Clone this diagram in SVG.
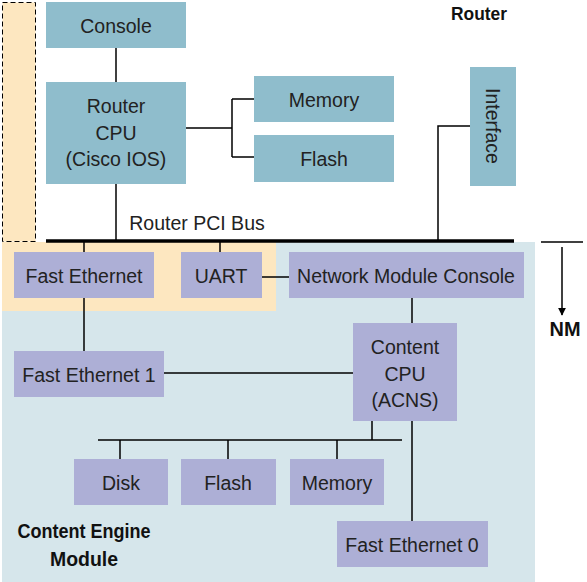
<svg xmlns="http://www.w3.org/2000/svg" width="587" height="582" viewBox="0 0 587 582">
<defs>
<style>
.rt{fill:#8fbdcc}
.cm{fill:#adafd6}
.t{font-family:"Liberation Sans",Arial,sans-serif;font-size:19.5px;fill:#222;text-anchor:middle}
.b{font-family:"Liberation Sans",Arial,sans-serif;font-weight:bold;fill:#111;text-anchor:middle}
.c{stroke:#000;stroke-width:1.5;fill:none}
</style>
<marker id="ah" viewBox="0 0 10 10" refX="9" refY="5" markerWidth="8" markerHeight="8" markerUnits="userSpaceOnUse" orient="auto">
<path d="M0,0 L10,5 L0,10 Z" fill="#000"/>
</marker>
</defs>
<rect width="587" height="582" fill="#fff"/>
<g id="module-bg">
<rect x="2" y="242" width="533" height="340" fill="#d6e6eb"/>
<rect x="2" y="242" width="274" height="69" fill="#fde7c0"/>
<rect x="2.5" y="2.5" width="33" height="239" fill="#fde7c0" stroke="#000" stroke-width="1" stroke-dasharray="5,3"/>
</g>
<g id="connectors">
<path class="c" d="M116,48 V82"/>
<path class="c" d="M116,184 V240"/>
<path class="c" d="M186,128 H232 M232,99 V157 M232,99 H254 M232,157 H254"/>
<path class="c" d="M470,126 H438 V240"/>
<path d="M46,241 H514" stroke="#000" stroke-width="3.5"/>
<path class="c" d="M84,242 V252 M220,242 V252"/>
<path class="c" d="M262,277 H289"/>
<path class="c" d="M84,298 V351"/>
<path class="c" d="M164,373 H353"/>
<path class="c" d="M412,298 V323"/>
<path class="c" d="M412,421 V521"/>
<path class="c" d="M372,421 V440 M98,440 H402 M120,440 V459 M228,440 V459 M337,440 V459"/>
<path class="c" d="M541,242 H583"/>
<path class="c" d="M562,247 V315" marker-end="url(#ah)"/>
</g>
<g id="console"><rect class="rt" x="46" y="2" width="140" height="46"/><text class="t" x="116" y="33">Console</text></g>
<g id="router-cpu"><rect class="rt" x="46" y="82" width="140" height="102"/><text class="t" x="116" y="113">Router</text><text class="t" x="116" y="140">CPU</text><text class="t" x="116" y="166">(Cisco IOS)</text></g>
<g id="memory-r"><rect class="rt" x="254" y="76" width="140" height="46"/><text class="t" x="324" y="107">Memory</text></g>
<g id="flash-r"><rect class="rt" x="254" y="135" width="140" height="47"/><text class="t" x="324" y="166">Flash</text></g>
<g id="interface"><rect class="rt" x="470" y="67" width="46" height="119"/><text class="t" transform="translate(486,126) rotate(90)" x="0" y="0">Interface</text></g>
<g id="labels">
<text class="b" x="479" y="20" font-size="19" textLength="56" lengthAdjust="spacingAndGlyphs">Router</text>
<text class="t" x="197" y="230">Router PCI Bus</text>
<text class="b" x="565" y="336" font-size="21" textLength="31" lengthAdjust="spacingAndGlyphs">NM</text>
<text class="b" x="84" y="538" font-size="20" textLength="133" lengthAdjust="spacingAndGlyphs">Content Engine</text>
<text class="b" x="84" y="566" font-size="20" textLength="68" lengthAdjust="spacingAndGlyphs">Module</text>
</g>
<g id="fast-ethernet"><rect class="cm" x="14" y="252" width="140" height="46"/><text class="t" x="84" y="283">Fast Ethernet</text></g>
<g id="uart"><rect class="cm" x="181" y="252" width="81" height="46"/><text class="t" x="221" y="283">UART</text></g>
<g id="nm-console"><rect class="cm" x="289" y="252" width="235" height="46"/><text class="t" x="406" y="283">Network Module Console</text></g>
<g id="fast-ethernet-1"><rect class="cm" x="14" y="351" width="150" height="46"/><text class="t" x="89" y="382">Fast Ethernet 1</text></g>
<g id="content-cpu"><rect class="cm" x="353" y="323" width="104" height="98"/><text class="t" x="405" y="354">Content</text><text class="t" x="405" y="381">CPU</text><text class="t" x="405" y="407">(ACNS)</text></g>
<g id="disk"><rect class="cm" x="74" y="459" width="94" height="46"/><text class="t" x="121" y="490">Disk</text></g>
<g id="flash-c"><rect class="cm" x="181" y="459" width="95" height="46"/><text class="t" x="228" y="490">Flash</text></g>
<g id="memory-c"><rect class="cm" x="290" y="459" width="94" height="46"/><text class="t" x="337" y="490">Memory</text></g>
<g id="fast-ethernet-0"><rect class="cm" x="337" y="521" width="151" height="46"/><text class="t" x="412" y="552">Fast Ethernet 0</text></g>
</svg>
